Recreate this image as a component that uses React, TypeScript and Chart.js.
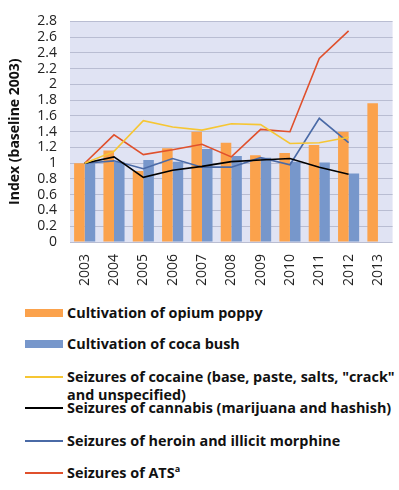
import React, { useEffect, useRef } from "react";
import { Chart, registerables } from "chart.js";

Chart.register(...registerables);

const years = ["2003", "2004", "2005", "2006", "2007", "2008", "2009", "2010", "2011", "2012", "2013"];
const opiumPoppy = [1.0, 1.16, 0.9, 1.19, 1.4, 1.26, 1.1, 1.13, 1.23, 1.4, 1.76];
const cocaBush = [1.0, 1.02, 1.04, 1.02, 1.18, 1.09, 1.07, 1.02, 1.01, 0.87, null];
const cocaine = [1.0, 1.15, 1.54, 1.46, 1.42, 1.5, 1.49, 1.25, 1.26, 1.33, null];
const cannabis = [1.0, 1.08, 0.82, 0.91, 0.96, 1.02, 1.04, 1.06, 0.95, 0.86, null];
const heroin = [1.0, 1.03, 0.93, 1.06, 0.95, 0.95, 1.07, 0.98, 1.57, 1.26, null];
const ats = [1.0, 1.36, 1.11, 1.17, 1.24, 1.08, 1.43, 1.4, 2.33, 2.68, null];
const yTicks = [0, 0.2, 0.4, 0.6, 0.8, 1, 1.2, 1.4, 1.6, 1.8, 2, 2.2, 2.4, 2.6, 2.8];

const ORANGE = "#fba24c";
const BLUE = "#7797cb";
const YELLOW = "#f6c633";
const BLACK = "#000000";
const STEEL = "#4a6aa6";
const RED = "#e0502c";

const legendItems = [
  { label: "Cultivation of opium poppy", color: ORANGE, bar: true, top: 304 },
  { label: "Cultivation of coca bush", color: BLUE, bar: true, top: 335 },
  { label: 'Seizures of cocaine (base, paste, salts, "crack" and unspecified)', color: YELLOW, bar: false, top: 368 },
  { label: "Seizures of cannabis (marijuana and hashish)", color: BLACK, bar: false, top: 399 },
  { label: "Seizures of heroin and illicit morphine", color: STEEL, bar: false, top: 432 },
  { label: "Seizures of ATS", sup: "a", color: RED, bar: false, top: 464 },
];

const plotBg = {
  id: "plotBg",
  beforeDraw(chart: any) {
    const { ctx, chartArea } = chart;
    ctx.save();
    ctx.fillStyle = "#e0e3f3";
    ctx.fillRect(chartArea.left, chartArea.top, chartArea.right - chartArea.left, chartArea.bottom - chartArea.top);
    ctx.restore();
  },
};

export default function App() {
  const ref = useRef<HTMLCanvasElement>(null);
  useEffect(() => {
    document.body.style.margin = "0";
    const lineDs = (label: string, data: any[], color: string) => ({
      type: "line" as const,
      label,
      data,
      borderColor: color,
      backgroundColor: color,
      borderWidth: 1.6,
      pointRadius: 0,
      tension: 0,
      order: 0,
    });
    const chart = new Chart(ref.current!, {
      type: "bar",
      data: {
        labels: years,
        datasets: [
          { type: "bar", label: "Cultivation of opium poppy", data: opiumPoppy, backgroundColor: ORANGE, order: 1 },
          { type: "bar", label: "Cultivation of coca bush", data: cocaBush as any, backgroundColor: BLUE, order: 1 },
          lineDs("cocaine", cocaine, YELLOW),
          lineDs("cannabis", cannabis, BLACK),
          lineDs("heroin", heroin, STEEL),
          lineDs("ats", ats, RED),
        ] as any,
      },
      options: {
        animation: false,
        responsive: false,
        datasets: { bar: { categoryPercentage: 0.72, barPercentage: 1.0 } } as any,
        layout: { padding: { left: 7, right: 6, top: 16, bottom: 0 } },
        plugins: { legend: { display: false }, tooltip: { enabled: false } },
        scales: {
          x: {
            grid: { display: false },
            border: { display: false },
            ticks: {
              color: "#222",
              font: { family: "Open Sans", size: 14 },
              maxRotation: 90,
              minRotation: 90,
              padding: 4,
              autoSkip: false,
            },
            afterFit(scale: any) {
              scale.height = 48;
            },
          },
          y: {
            min: 0,
            max: 2.8,
            afterBuildTicks(scale: any) {
              scale.ticks = yTicks.map((v) => ({ value: v }));
            },
            grid: { color: "#b9bdd2", lineWidth: 1, drawTicks: false },
            border: { display: false },
            ticks: {
              color: "#222",
              font: { family: "Open Sans", size: 14 },
              padding: 13,
              autoSkip: false,
              callback: (v: any) => String(Math.round(Number(v) * 10) / 10),
            },
            title: {
              display: true,
              text: "Index (baseline 2003)",
              color: "#111",
              font: { family: "Open Sans", size: 14, weight: "bold" },
              padding: { top: 0, bottom: 0 },
            },
            afterFit(scale: any) {
              scale.width = 63;
            },
          },
        },
      },
      plugins: [plotBg],
    });
    return () => chart.destroy();
  }, []);

  return (
    <div style={{ position: "relative", width: 399, height: 490, background: "#fff" }}>
      <canvas ref={ref} width={399} height={290} style={{ display: "block", width: 399, height: 290 }} />
      {legendItems.map((it, i) => (
        <div
          key={i}
          style={{
            position: "absolute",
            left: 25,
            top: it.top,
            width: 372,
            display: "flex",
            alignItems: "flex-start",
            lineHeight: "18px",
            fontFamily: "Open Sans",
            fontWeight: "bold",
            fontSize: 14.4,
            color: "#111",
          }}
        >
          <div style={{ width: 38, minWidth: 38, marginTop: it.bar ? 5 : 8, height: it.bar ? 8 : 2, background: it.color, marginRight: 4 }} />
          <div>
            {it.label}
            {it.sup ? <sup style={{ fontSize: 9, lineHeight: 0 }}>{it.sup}</sup> : null}
          </div>
        </div>
      ))}
    </div>
  );
}
